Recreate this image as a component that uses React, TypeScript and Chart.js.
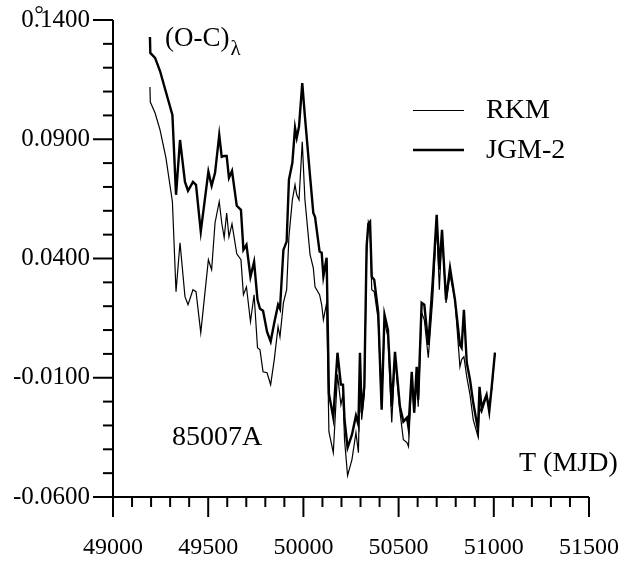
import React, { useEffect, useRef } from "react";
import { Chart, registerables } from "chart.js";

Chart.register(...registerables);

// ---- data (T in MJD, values in degrees) ----
const mjd = [
  49194, 49196, 49221, 49247, 49278, 49312, 49331, 49352, 49378, 49394,
  49420, 49436, 49461, 49501, 49518, 49536, 49558, 49571, 49584, 49597,
  49609, 49625, 49650, 49672, 49685, 49701, 49722, 49741, 49759, 49772,
  49788, 49809, 49828, 49847, 49867, 49877, 49895, 49912, 49924, 49942,
  49956, 49965, 49977, 49994, 50008, 50035, 50052, 50061, 50085, 50096,
  50105, 50122, 50134, 50157, 50179, 50197, 50208, 50216, 50232, 50255,
  50276, 50289, 50297, 50306, 50320, 50332, 50341, 50350, 50359, 50372,
  50393, 50411, 50426, 50444, 50464, 50481, 50507, 50525, 50544, 50552,
  50569, 50582, 50595, 50603, 50621, 50635, 50656, 50679, 50700, 50714,
  50728, 50749, 50770, 50796, 50822, 50831, 50843, 50858, 50875, 50892,
  50917, 50925, 50936, 50962, 50976, 50989, 51006,
];

const jgm2 = [
  0.1329, 0.1262, 0.1241, 0.1186, 0.1098, 0.1002, 0.0667, 0.0897, 0.0721, 0.0684,
  0.0721, 0.0709, 0.0513, 0.0764, 0.0705, 0.0759, 0.0918, 0.0826, 0.0830, 0.0830,
  0.0738, 0.0767, 0.0621, 0.0604, 0.0436, 0.0457, 0.0323, 0.0386, 0.0227, 0.0189,
  0.0181, 0.0093, 0.0052, 0.0131, 0.0206, 0.0189, 0.0436, 0.0471, 0.0730, 0.0801,
  0.0948, 0.0906, 0.0953, 0.1135, 0.0995, 0.0744, 0.0591, 0.0575, 0.0429, 0.0424,
  0.0325, 0.0403, -0.0167, -0.0267, 0.0005, -0.0129, -0.0129, -0.0276, -0.0393, -0.0339,
  -0.0259, -0.0297, 0.0005, -0.0246, -0.0138, 0.0450, 0.0545, 0.0554, 0.0323, 0.0311,
  0.0173, -0.0234, 0.0164, 0.0101, -0.0221, 0.0009, -0.0221, -0.0284, -0.0267, -0.0309,
  -0.0075, -0.0246, -0.0054, -0.0192, 0.0214, 0.0206, 0.0038, 0.0302, 0.0583, 0.0353,
  0.0520, 0.0227, 0.0361, 0.0227, 0.0038, 0.0026, 0.0185, -0.0037, -0.0108, -0.0205,
  -0.0318, -0.0138, -0.0226, -0.0171, -0.0242, -0.0138, 0.0005,
];

const rkm = [
  0.1119, 0.1056, 0.1010, 0.0939, 0.0822, 0.0638, 0.0261, 0.0466, 0.0240, 0.0206,
  0.0269, 0.0261, 0.0089, 0.0395, 0.0353, 0.0550, 0.0639, 0.0550, 0.0487, 0.0591,
  0.0491, 0.0545, 0.0420, 0.0395, 0.0248, 0.0281, 0.0135, 0.0248, 0.0026, 0.0017,
  -0.0075, -0.0079, -0.0129, -0.0024, 0.0114, 0.0072, 0.0214, 0.0269, 0.0491, 0.0646,
  0.0709, 0.0667, 0.0646, 0.0889, 0.0646, 0.0416, 0.0361, 0.0281, 0.0248, 0.0206,
  0.0143, 0.0214, -0.0326, -0.0414, -0.0087, -0.0213, -0.0171, -0.0360, -0.0510, -0.0443,
  -0.0330, -0.0414, -0.0075, -0.0276, -0.0171, 0.0416, 0.0554, 0.0529, 0.0269, 0.0261,
  0.0143, -0.0226, 0.0131, 0.0072, -0.0288, -0.0016, -0.0242, -0.0360, -0.0372, -0.0389,
  -0.0108, -0.0246, -0.0108, -0.0221, 0.0173, 0.0143, -0.0016, 0.0227, 0.0554, 0.0269,
  0.0512, 0.0214, 0.0332, 0.0227, -0.0054, -0.0024, -0.0012, -0.0096, -0.0171, -0.0276,
  -0.0347, -0.0226, -0.0246, -0.0179, -0.0213, -0.0150, 0.0005,
];

const seriesNames = ["RKM", "JGM-2"];
const xMajorTicks = [49000, 49500, 50000, 50500, 51000, 51500];
const yMajorTicks = [-0.06, -0.01, 0.04, 0.09, 0.14];
const xMinorStep = 100;
const yMinorStep = 0.01;
const yTitle = "(O-C)";
const yTitleSub = "λ";
const unitMark = "°";
const xTitle = "T (MJD)";
const objectLabel = "85007A";

const SERIF = "'Liberation Serif', 'Times New Roman', serif";

const decorPlugin = {
  id: "decor",
  afterDraw(chart: any) {
    const ctx: CanvasRenderingContext2D = chart.ctx;
    const xs = chart.scales.x;
    const ys = chart.scales.y;
    const { left, right, top, bottom } = chart.chartArea;
    ctx.save();
    ctx.strokeStyle = "#000";
    ctx.fillStyle = "#000";
    ctx.lineWidth = 2;
    ctx.lineCap = "butt";
    // axis lines
    ctx.beginPath();
    ctx.moveTo(left, top);
    ctx.lineTo(left, bottom);
    ctx.lineTo(right, bottom);
    ctx.stroke();
    // y ticks
    const y0 = yMajorTicks[0];
    const y1 = yMajorTicks[yMajorTicks.length - 1];
    const ny = Math.round((y1 - y0) / yMinorStep);
    for (let i = 0; i <= ny; i++) {
      const v = y0 + i * yMinorStep;
      const p = ys.getPixelForValue(v);
      const len = i % 5 === 0 ? 20 : 10;
      ctx.beginPath();
      ctx.moveTo(left - len, p);
      ctx.lineTo(left, p);
      ctx.stroke();
    }
    // x ticks
    const x0 = xMajorTicks[0];
    const x1 = xMajorTicks[xMajorTicks.length - 1];
    const nx = Math.round((x1 - x0) / xMinorStep);
    for (let i = 0; i <= nx; i++) {
      const v = x0 + i * xMinorStep;
      const p = xs.getPixelForValue(v);
      const len = i % 5 === 0 ? 20 : 10;
      ctx.beginPath();
      ctx.moveTo(p, bottom);
      ctx.lineTo(p, bottom + len);
      ctx.stroke();
    }
    // legend
    ctx.lineWidth = 1.2;
    ctx.beginPath();
    ctx.moveTo(413, 110.5);
    ctx.lineTo(464, 110.5);
    ctx.stroke();
    ctx.lineWidth = 2.4;
    ctx.beginPath();
    ctx.moveTo(413, 150);
    ctx.lineTo(464, 150);
    ctx.stroke();
    ctx.textBaseline = "alphabetic";
    ctx.textAlign = "left";
    ctx.font = `28px ${SERIF}`;
    ctx.fillText(seriesNames[0], 486, 118);
    ctx.fillText(seriesNames[1], 486, 158);
    // titles
    ctx.font = `27px ${SERIF}`;
    ctx.fillText(yTitle, 165, 46);
    const w = ctx.measureText(yTitle).width;
    ctx.font = `21px ${SERIF}`;
    ctx.fillText(yTitleSub, 165 + w + 1, 55);
    ctx.font = `28px ${SERIF}`;
    ctx.fillText(objectLabel, 172, 445);
    ctx.fillText(xTitle, 519, 471);
    ctx.font = `24px ${SERIF}`;
    ctx.textAlign = "center";
    ctx.fillText(unitMark, 39, 22);
    ctx.restore();
  },
};

export default function App() {
  const ref = useRef<HTMLCanvasElement | null>(null);
  useEffect(() => {
    if (!ref.current) return;
    const chart = new Chart(ref.current, {
      type: "line",
      data: {
        datasets: [
          {
            label: seriesNames[0],
            data: mjd.map((t, i) => ({ x: t, y: rkm[i] })),
            borderColor: "#000",
            borderWidth: 1.2,
            pointRadius: 0,
            tension: 0,
            fill: false,
          },
          {
            label: seriesNames[1],
            data: mjd.map((t, i) => ({ x: t, y: jgm2[i] })),
            borderColor: "#000",
            borderWidth: 2.4,
            pointRadius: 0,
            tension: 0,
            fill: false,
          },
        ],
      },
      options: {
        responsive: false,
        animation: false,
        layout: { padding: { left: 0, right: 52, top: 20, bottom: 0 } },
        plugins: { legend: { display: false }, tooltip: { enabled: false } },
        scales: {
          x: {
            type: "linear",
            min: xMajorTicks[0],
            max: xMajorTicks[xMajorTicks.length - 1],
            afterBuildTicks: (s: any) => {
              s.ticks = xMajorTicks.map((v) => ({ value: v }));
            },
            afterFit: (s: any) => {
              s.height = 66;
              s.paddingLeft = 0;
              s.paddingRight = 0;
              s.paddingTop = 0;
              s.paddingBottom = 0;
            },
            ticks: {
              autoSkip: false,
              maxRotation: 0,
              color: "#000",
              padding: 36,
              font: { family: SERIF, size: 24 },
              callback: (v: any) => String(v),
            },
            grid: { display: false, drawTicks: false },
            border: { display: false },
          },
          y: {
            type: "linear",
            min: yMajorTicks[0],
            max: yMajorTicks[yMajorTicks.length - 1],
            afterBuildTicks: (s: any) => {
              s.ticks = yMajorTicks.map((v) => ({ value: v }));
            },
            afterFit: (s: any) => {
              s.width = 113;
              s.paddingLeft = 0;
              s.paddingRight = 0;
              s.paddingTop = 0;
              s.paddingBottom = 0;
            },
            ticks: {
              autoSkip: false,
              color: "#000",
              padding: 23,
              font: { family: SERIF, size: 25 },
              callback: (v: any) => Number(v).toFixed(4),
            },
            grid: { display: false, drawTicks: false },
            border: { display: false },
          },
        },
      },
      plugins: [decorPlugin],
    });
    return () => chart.destroy();
  }, []);
  return (
    <div style={{ position: "fixed", left: 0, top: 0, width: 641, height: 563, background: "#fff" }}>
      <canvas ref={ref} width={641} height={563} style={{ display: "block" }} />
    </div>
  );
}
